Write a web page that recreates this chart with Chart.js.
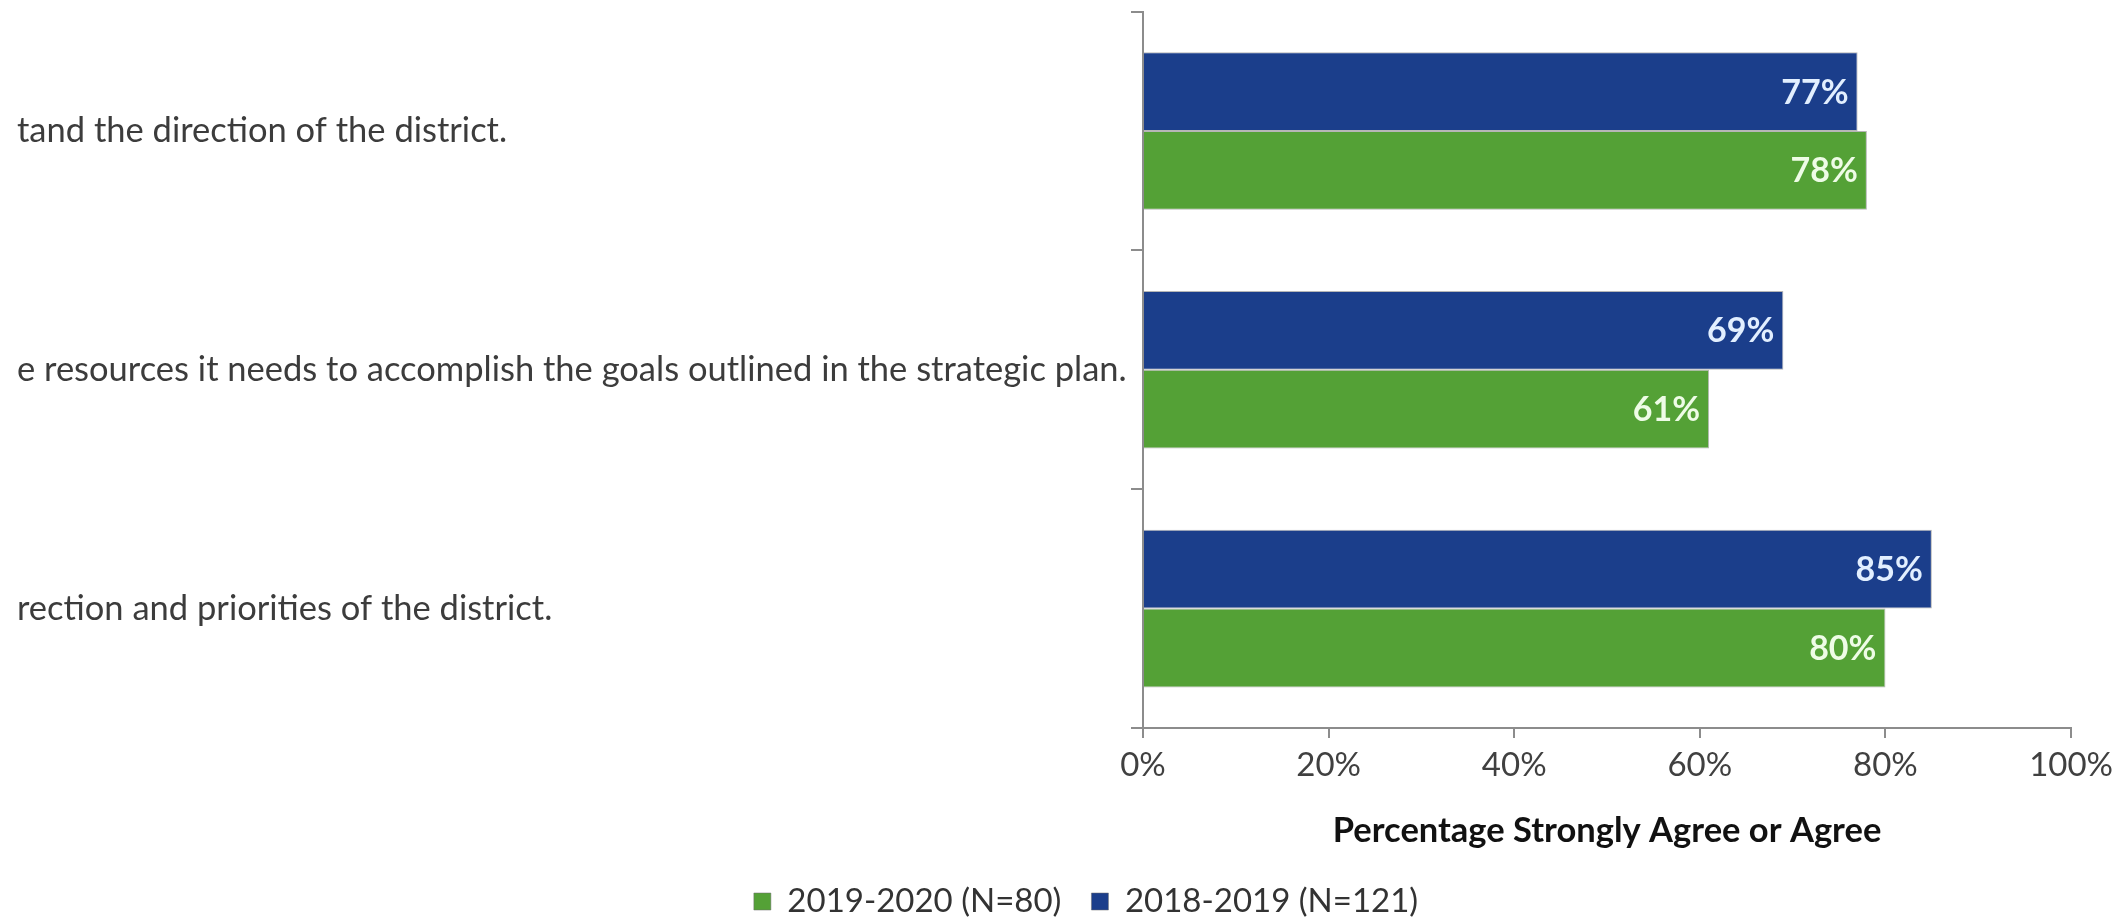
<!DOCTYPE html>
<html>
<head>
<meta charset="utf-8">
<script src="https://cdn.jsdelivr.net/npm/chart.js@4.4.1/dist/chart.umd.min.js"></script>
<style>
  html, body { margin: 0; padding: 0; background: #fff; overflow: hidden; }
  #wrap { width: 2121px; height: 918px; }
</style>
</head>
<body>
<div id="wrap"><canvas id="surveyChart" width="2121" height="918"></canvas></div>
<script>
// statements (left part is cut off in the original picture)
var statements = [
    'tand the direction of the district.',
    'e resources it needs to accomplish the goals outlined in the strategic plan.',
    'rection and priorities of the district.'
];
var seriesNames = ['2018-2019 (N=121)', '2019-2020 (N=80)'];
var values1819 = [77, 69, 85];
var values1920 = [78, 61, 80];
var xTicks = [0, 20, 40, 60, 80, 100];

var blue = '#1b3e8b';
var green = '#54a136';

// white value labels at the end of each bar
var barValueLabels = {
    id: 'barValueLabels',
    afterDatasetsDraw: function(chart) {
        var ctx = chart.ctx;
        ctx.save();
        ctx.font = 'bold 34px Lato';
        ctx.textAlign = 'right';
        ctx.textBaseline = 'middle';
        chart.data.datasets.forEach(function(ds, i) {
            ctx.fillStyle = i === 0 ? '#e2efff' : '#eefce6';
            chart.getDatasetMeta(i).data.forEach(function(bar, j) {
                ctx.fillText(ds.data[j] + '%', bar.x - 9, bar.y + 1);
            });
        });
        ctx.restore();
    }
};

// legend in the original is centred a bit right of the canvas centre
var legendShift = {
    id: 'legendShift',
    afterLayout: function(chart) {
        var lg = chart.legend;
        var dx = 1086 - (lg.left + lg.right) / 2;
        lg.left += dx;
        lg.right += dx;
    }
};

document.fonts.load('30px Lato').then(function() {
    var ctx = document.getElementById('surveyChart').getContext('2d');
    new Chart(ctx, {
        type: 'bar',
        data: {
            labels: statements,
            datasets: [{
                label: seriesNames[0],
                data: values1819,
                backgroundColor: blue,
                borderColor: 'rgba(110,110,110,0.5)',
                borderWidth: 1
            }, {
                label: seriesNames[1],
                data: values1920,
                backgroundColor: green,
                borderColor: 'rgba(110,110,110,0.5)',
                borderWidth: 1
            }]
        },
        options: {
            responsive: false,
            animation: false,
            indexAxis: 'y',
            categoryPercentage: 0.66,
            barPercentage: 1,
            layout: {
                padding: { left: 17, top: 11, right: 22, bottom: -10 }
            },
            scales: {
                x: {
                    min: 0,
                    max: 100,
                    afterBuildTicks: function(scale) {
                        scale.ticks = xTicks.map(function(v) { return { value: v }; });
                    },
                    border: { color: '#8c8c8c', width: 2 },
                    grid: { drawOnChartArea: false, tickLength: 10, color: '#8c8c8c', lineWidth: 2 },
                    ticks: {
                        padding: 8,
                        color: '#404040',
                        font: { family: 'Lato', size: 33 },
                        callback: function(v) { return v + '%'; }
                    },
                    title: {
                        display: true,
                        text: 'Percentage Strongly Agree or Agree',
                        color: '#111',
                        font: { family: 'Lato', size: 34.5, weight: 'bold' },
                        padding: { top: 17, bottom: 3 }
                    }
                },
                y: {
                    afterFit: function(scale) { scale.width = 1126; },
                    border: { color: '#8c8c8c', width: 2 },
                    grid: { drawOnChartArea: false, tickLength: 12, color: '#8c8c8c', lineWidth: 2 },
                    ticks: {
                        crossAlign: 'far',
                        color: '#3c3c3c',
                        font: { family: 'Lato', size: 34.5, lineHeight: 0.5 }
                    }
                }
            },
            plugins: {
                legend: {
                    position: 'bottom',
                    reverse: true,
                    labels: {
                        color: '#333',
                        boxWidth: 17,
                        boxHeight: 17,
                        padding: 30,
                        font: { family: 'Lato', size: 33 }
                    }
                },
                tooltip: { enabled: false }
            }
        },
        plugins: [barValueLabels, legendShift]
    });
});
</script>
</body>
</html>
